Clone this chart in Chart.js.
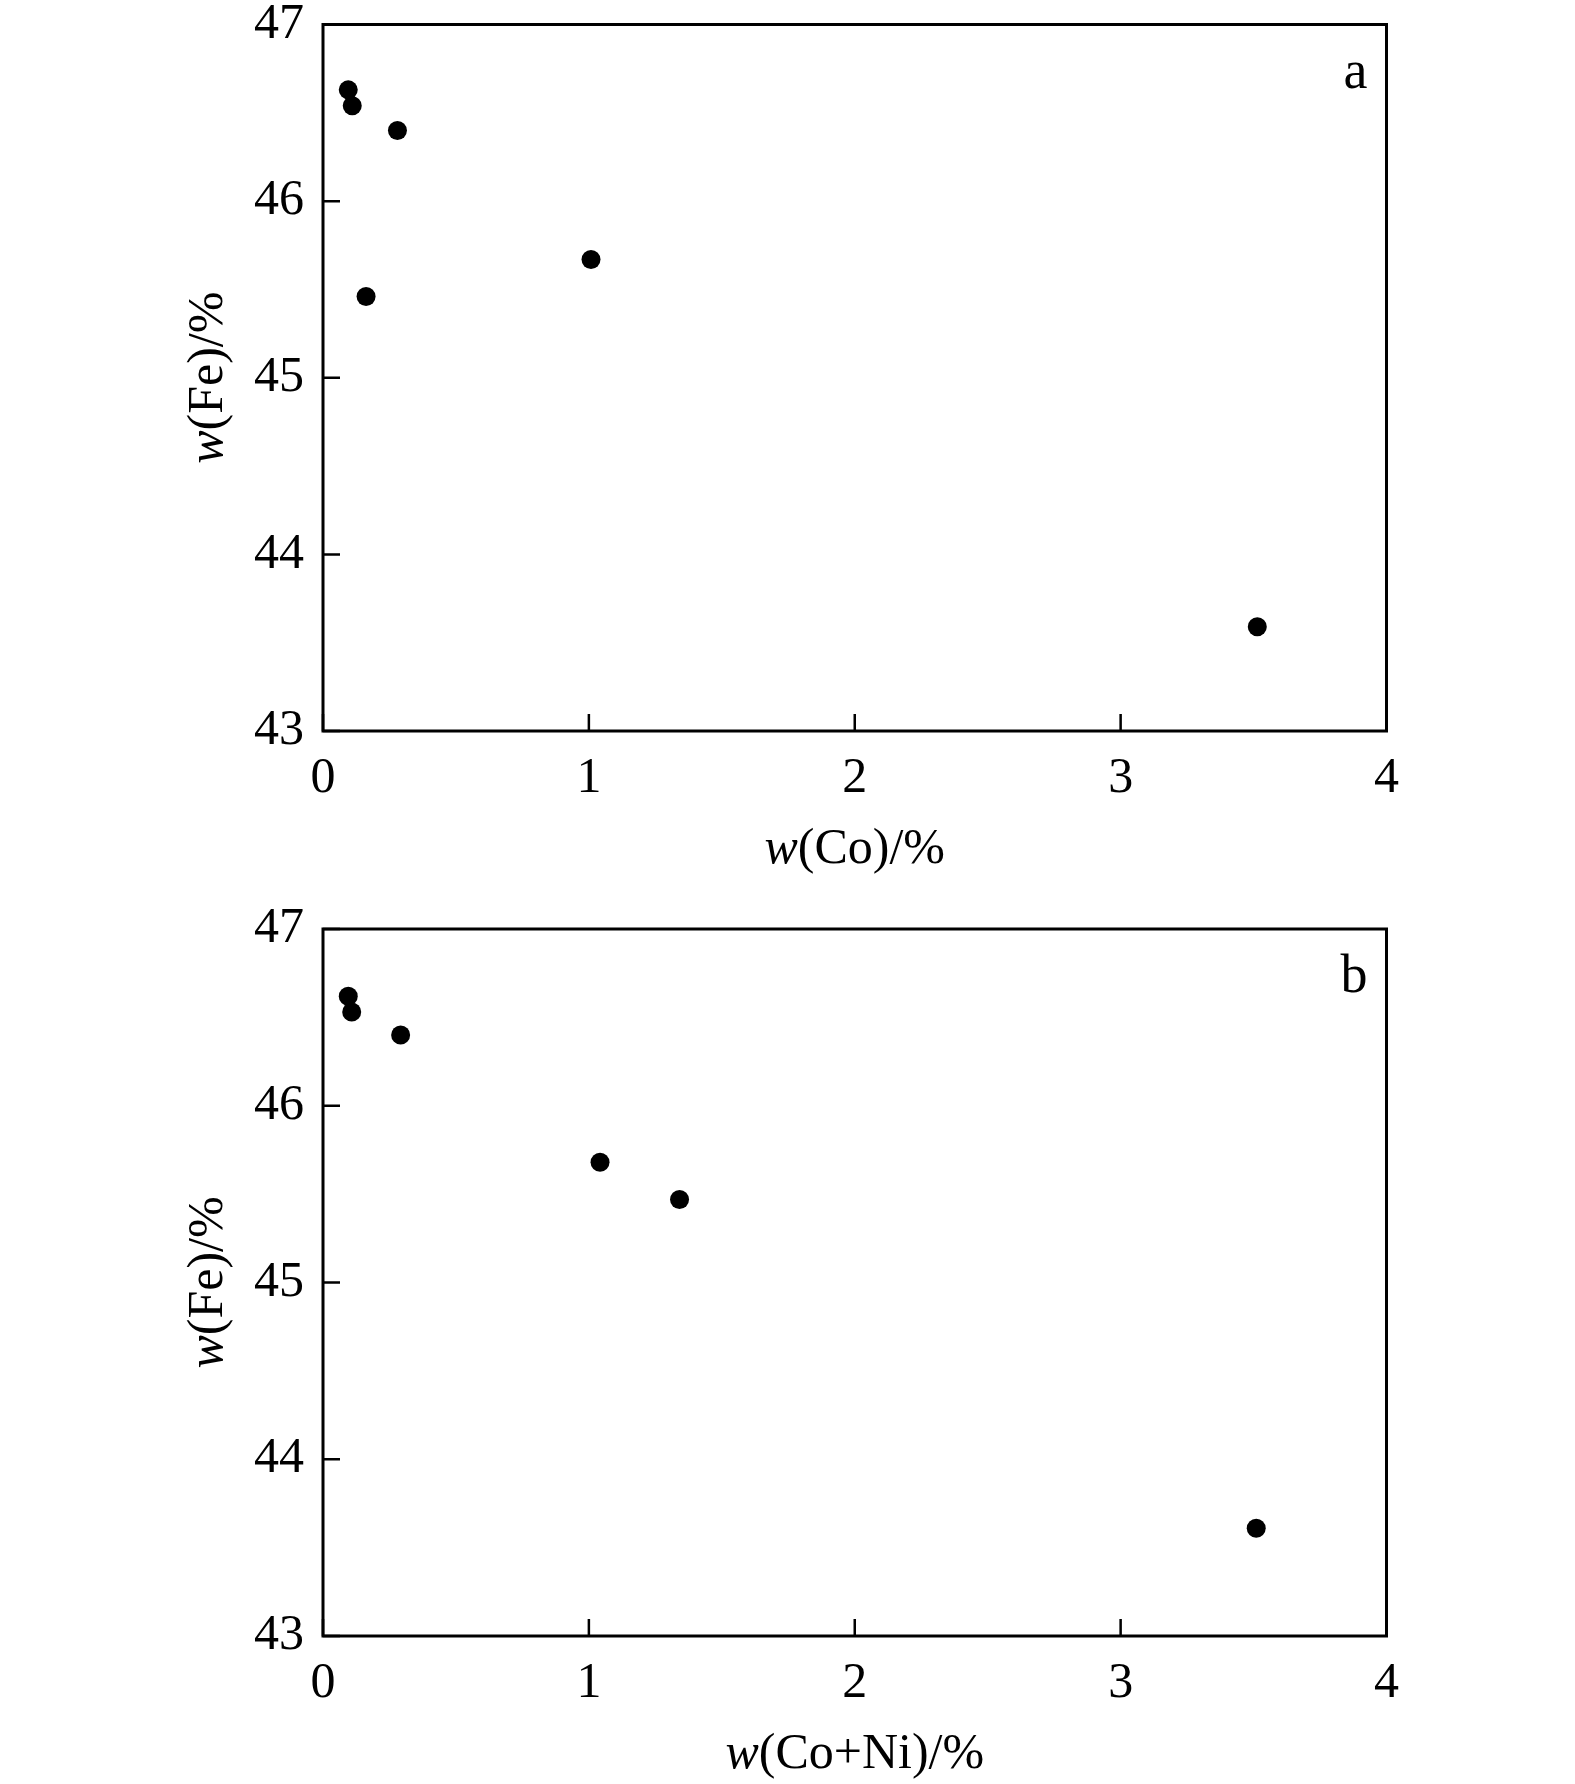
<!DOCTYPE html>
<html>
<head>
<meta charset="utf-8">
<script src="https://cdn.jsdelivr.net/npm/chart.js@4"></script>
<style>
  body { margin: 0; background: #fff; }
  #wrap { position: relative; width: 1575px; height: 1784px; }
  canvas { position: absolute; left: 0; }
</style>
</head>
<body>
<div id="wrap">
  <canvas id="chartA" width="1575" height="892" style="top:0"></canvas>
  <canvas id="chartB" width="1575" height="892" style="top:892px"></canvas>
</div>
<script>
// panel a: w(Fe) vs w(Co)
const coA = [0.095, 0.110, 0.280, 0.162, 1.008, 3.514];
const feA = [46.63, 46.54, 46.40, 45.46, 45.67, 43.59];
// panel b: w(Fe) vs w(Co+Ni)
const coNiB = [0.095, 0.108, 0.292, 1.042, 1.341, 3.510];
const feB = [46.62, 46.53, 46.40, 45.68, 45.47, 43.61];

const xTicks = [0, 1, 2, 3, 4];
const yTicks = [43, 44, 45, 46, 47];

const FONT = '"Liberation Serif", "Times New Roman", serif';

// draw text where the leading "w" is italic
function drawMixed(ctx, parts, x, y) {
    let total = 0;
    parts.forEach(p => {
        ctx.font = (p.italic ? 'italic ' : '') + '50px ' + FONT;
        p.w = ctx.measureText(p.t).width;
        total += p.w;
    });
    let cx = x - total / 2;
    ctx.textAlign = 'left';
    ctx.textBaseline = 'alphabetic';
    parts.forEach(p => {
        ctx.font = (p.italic ? 'italic ' : '') + '50px ' + FONT;
        ctx.fillText(p.t, cx, y);
        cx += p.w;
    });
}

const framePlugin = {
    id: 'frame',
    afterDraw(chart, args, opts) {
        const ctx = chart.ctx;
        const a = chart.chartArea;
        const xs = chart.scales.x, ys = chart.scales.y;
        ctx.save();
        ctx.strokeStyle = '#000';
        ctx.lineWidth = 3;
        ctx.strokeRect(a.left, a.top, a.right - a.left, a.bottom - a.top);
        // inward tick marks
        ctx.beginPath();
        xTicks.forEach(v => {
            const px = xs.getPixelForValue(v);
            ctx.moveTo(px, a.bottom);
            ctx.lineTo(px, a.bottom - 17);
        });
        yTicks.forEach(v => {
            const py = ys.getPixelForValue(v);
            ctx.moveTo(a.left, py);
            ctx.lineTo(a.left + 17, py);
        });
        ctx.lineWidth = 2.5;
        ctx.stroke();

        ctx.fillStyle = '#000';
        // x title
        drawMixed(ctx, [{t: 'w', italic: true}, {t: opts.xRest}], (a.left + a.right) / 2, a.bottom + 132);
        // y title
        ctx.save();
        ctx.translate(222, (a.top + a.bottom) / 2);
        ctx.rotate(-Math.PI / 2);
        drawMixed(ctx, [{t: 'w', italic: true}, {t: '(Fe)/%'}], 0, 0);
        ctx.restore();
        // panel label
        ctx.font = '54px ' + FONT;
        ctx.textAlign = 'right';
        ctx.textBaseline = 'alphabetic';
        ctx.fillText(opts.panel, a.right - 19, a.top + 63);
        ctx.restore();
    }
};

function makeChart(id, xs, ys, xRest, panel, padTop, plotBottom) {
    const data = xs.map((x, i) => ({x: x, y: ys[i]}));
    return new Chart(document.getElementById(id), {
        type: 'scatter',
        data: {
            datasets: [{
                data: data,
                backgroundColor: '#000',
                borderWidth: 0,
                pointRadius: 9.5,
                pointHoverRadius: 9.5
            }]
        },
        plugins: [framePlugin],
        options: {
            responsive: false,
            animation: false,
            devicePixelRatio: 1,
            layout: { padding: { top: padTop, right: 188.5, left: 0, bottom: 0 } },
            plugins: {
                legend: { display: false },
                tooltip: { enabled: false },
                frame: { xRest: xRest, panel: panel }
            },
            scales: {
                x: {
                    type: 'linear',
                    min: 0, max: 4,
                    grid: { display: false, drawTicks: false },
                    border: { display: false },
                    ticks: {
                        stepSize: 1,
                        padding: 18,
                        color: '#000',
                        font: { family: FONT, size: 50 }
                    },
                    afterFit(scale) {
                        scale.height = 892 - plotBottom;
                        scale.paddingLeft = 0;
                        scale.paddingRight = 0;
                    }
                },
                y: {
                    type: 'linear',
                    min: 43, max: 47,
                    grid: { display: false, drawTicks: false },
                    border: { display: false },
                    ticks: {
                        stepSize: 1,
                        padding: 19,
                        color: '#000',
                        font: { family: FONT, size: 50 }
                    },
                    afterFit(scale) {
                        scale.width = 323;
                        scale.paddingTop = 0;
                        scale.paddingBottom = 0;
                    }
                }
            }
        }
    });
}

makeChart('chartA', coA, feA, '(Co)/%', 'a', 24.5, 731);
makeChart('chartB', coNiB, feB, '(Co+Ni)/%', 'b', 37, 744);
</script>
</body>
</html>
